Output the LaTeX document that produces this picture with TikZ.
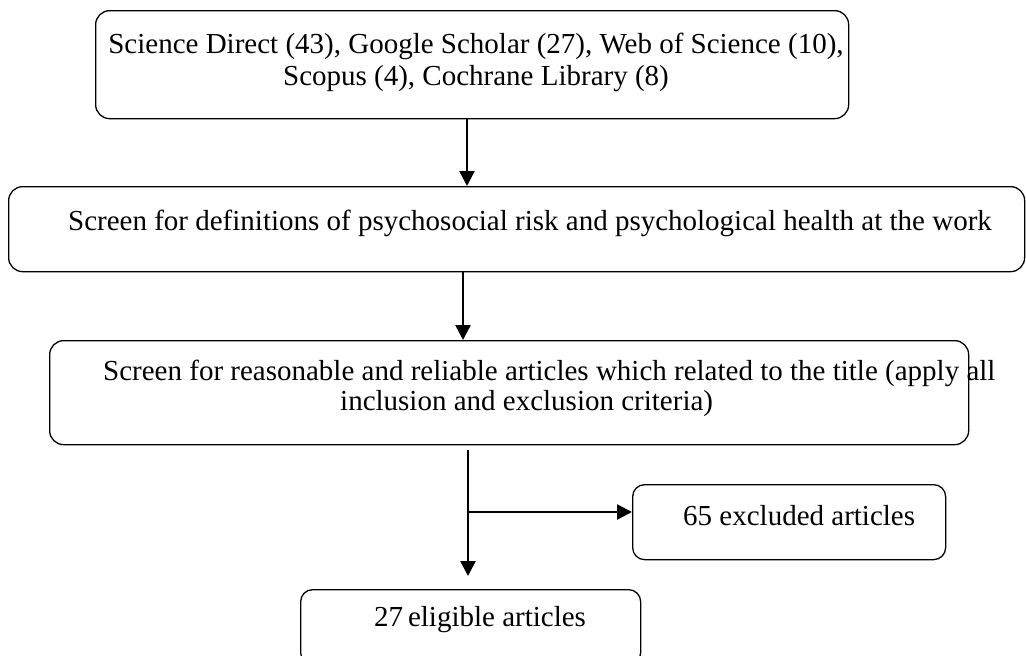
\documentclass[tikz,border=0pt]{standalone}
\usepackage{fontspec}
\setmainfont{Liberation Serif}
\usetikzlibrary{arrows.meta}
\begin{document}
\begin{tikzpicture}[x=1pt,y=-1pt,
  box/.style={draw=black,line width=1.3pt,rounded corners=14pt,inner sep=0pt,anchor=north west},
  txt/.style={inner sep=0pt,align=center,font=\fontsize{29}{32}\selectfont},
  arr/.style={line width=2.5pt,-{Triangle[length=15pt,width=15pt]}}]
\useasboundingbox (0,0) rectangle (1026,656);
% boxes
\node[box,minimum width=753pt,minimum height=108pt] (b1) at (95,10) {};
\node[box,minimum width=1016pt,minimum height=85pt] (b2) at (8,186) {};
\node[box,minimum width=919pt,minimum height=104pt] (b3) at (49,340) {};
\node[box,minimum width=313pt,minimum height=75pt,rounded corners=12pt] (b5) at (632,484) {};
\node[box,minimum width=340pt,minimum height=75pt,rounded corners=12pt] (b4) at (300,589) {};
% texts
\node[txt] (t1) at (476,62) {Science Direct (43), Google Scholar (27), Web of Science (10),\\Scopus (4), Cochrane Library (8)};
\node[txt] (t2) at (530,223) {Screen for definitions of psychosocial risk and psychological health at the work};
\node[txt,anchor=west] (t3) at (103,373) {Screen for reasonable and reliable articles which related to the title (apply all};
\node[txt,anchor=west] (t3c) at (340,404) {inclusion and exclusion criteria)};
\node[txt,anchor=west] (t5) at (683,516) {65 excluded articles};
\node[txt,anchor=west] (t4) at (374,620) {27\,eligible articles};
% connectors
\coordinate (x1) at (467,0);
\coordinate (x2) at (463,0);
\coordinate (x3) at (468,0);
\coordinate (jy) at (0,512);
\draw[arr] (x1 |- b1.south) -- (x1 |- b2.north);
\draw[arr] (x2 |- b2.south) -- (x2 |- b3.north);
\draw[arr,shorten <=5pt,shorten >=13pt] (x3 |- b3.south) -- (x3 |- b4.north);
\draw[arr] (x3 |- jy) -- (b5.west |- jy);
\end{tikzpicture}
\end{document}
